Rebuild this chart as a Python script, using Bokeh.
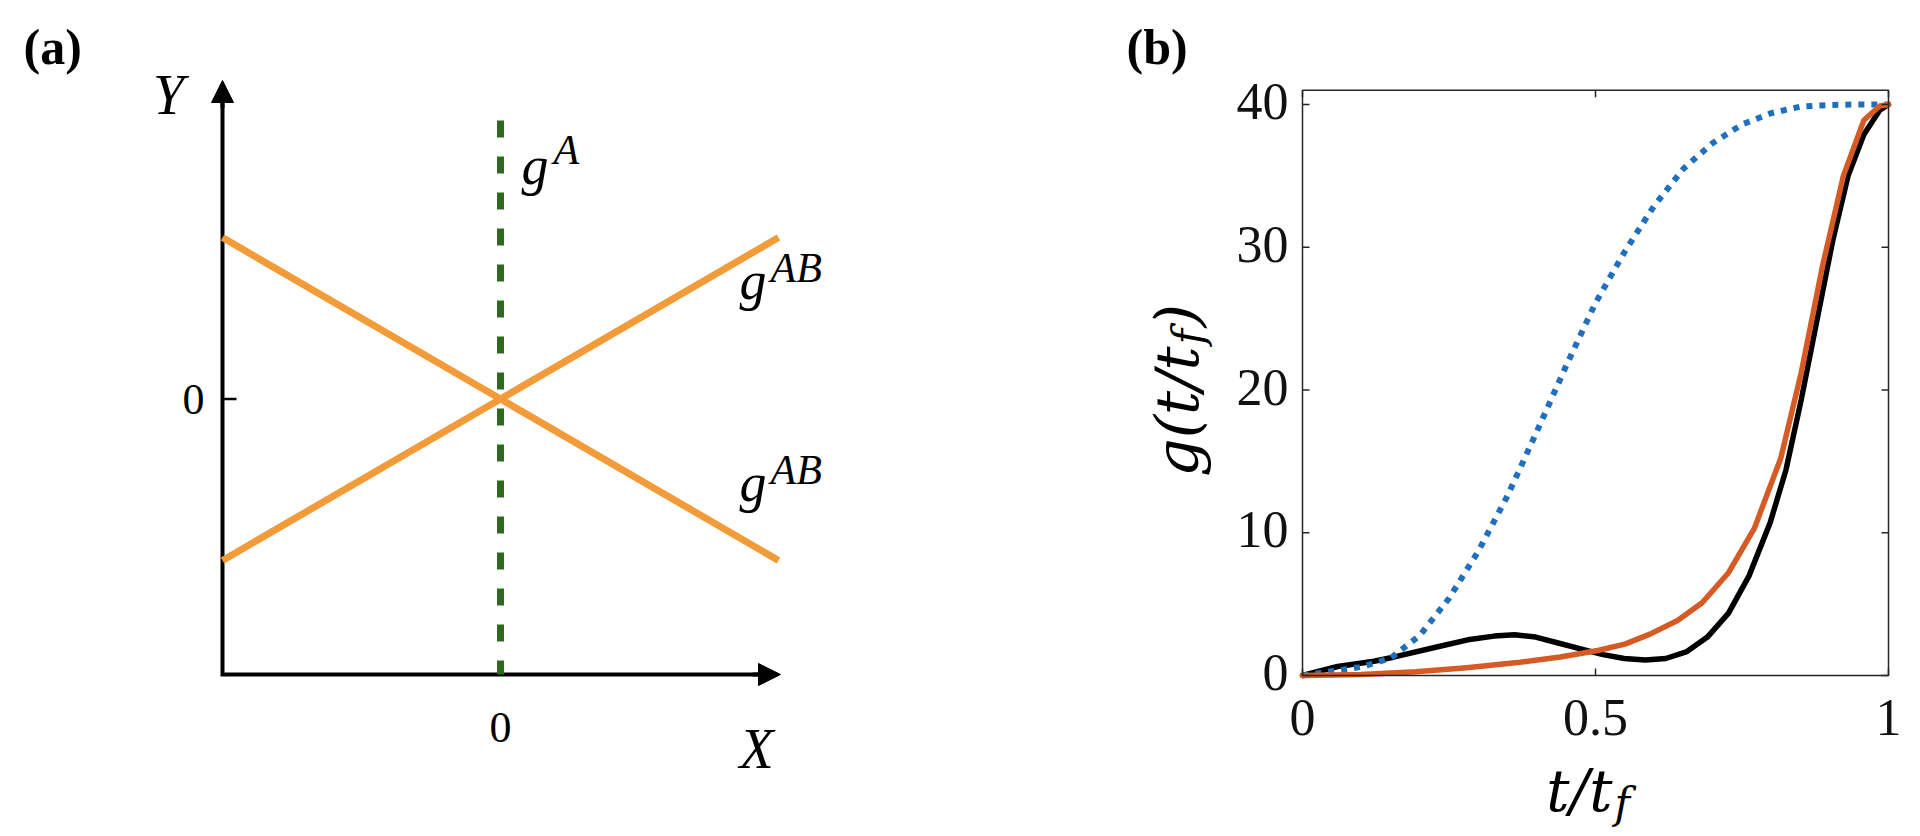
import math
from bokeh.plotting import figure
from bokeh.models import Range1d, Arrow, NormalHead, Label
from bokeh.layouts import row
from bokeh.embed import file_html
from bokeh.resources import INLINE

# ---------------- data: panel (a) schematic ----------------
a_x = [-1.0, 1.0]
a_rising = [-0.586, 0.586]
a_falling = [0.586, -0.586]
gA_x = [0.0, 0.0]
gA_y = [1.011, -1.0]
a_tick_labels = ["0", "0"]

# ---------------- data: panel (b) curves ----------------
t_blue = [0, 0.05, 0.1, 0.15, 0.2, 0.25, 0.3, 0.35, 0.4, 0.45, 0.5, 0.55, 0.6,
          0.65, 0.7, 0.75, 0.8, 0.85, 0.9, 0.95, 1.0]
g_blue = [0, 0.3, 0.6, 1.2, 2.8, 5.4, 8.7, 12.6, 17.1, 21.7, 26.1, 29.7, 32.9,
          35.5, 37.3, 38.6, 39.4, 39.85, 39.97, 40.0, 40.0]

t_black = [0, 0.06, 0.122, 0.157, 0.229, 0.282, 0.327, 0.362, 0.398, 0.433, 0.478,
           0.513, 0.549, 0.585, 0.62, 0.656, 0.691, 0.727, 0.762, 0.798, 0.825,
           0.851, 0.878, 0.905, 0.931, 0.958, 0.985, 1.0]
g_black = [0, 0.63, 1.0, 1.3, 2.0, 2.5, 2.76, 2.85, 2.69, 2.31, 1.83,
           1.46, 1.19, 1.08, 1.19, 1.68, 2.69, 4.37, 6.98, 10.7, 14.4,
           19.3, 24.9, 30.5, 35.0, 37.9, 39.6, 40.0]

t_orange = [0, 0.1, 0.193, 0.28, 0.371, 0.44, 0.504, 0.55, 0.593, 0.64, 0.682,
            0.727, 0.771, 0.816, 0.851, 0.887, 0.923, 0.958, 0.985, 1.0]
g_orange = [0, 0.07, 0.26, 0.55, 0.93, 1.3, 1.75, 2.2, 2.9, 3.85, 5.1,
            7.2, 10.3, 15.2, 21.2, 28.6, 35.0, 38.9, 39.9, 40.0]

b_xticks = [0, 0.5, 1]
b_xtick_labels = ["0", "0.5", "1"]
b_yticks = [0, 10, 20, 30, 40]
b_ytick_labels = ["0", "10", "20", "30", "40"]
b_xmax = 1.0
b_ymax = 41.0

SERIF = "Liberation Serif"
MATH = "DejaVu Serif"
ORANGE_A = "#F29B38"
GREEN_A = "#2D6A1F"
BLUE_B = "#1F6FBF"
ORANGE_B = "#D55A24"
BOX = "#262626"

W_A, W_B, H = 1108, 812, 836


# page pixel -> data converters (panel a)
def pxa(px):
    return -1 + (px - 222) / 278.0


def pya(py):
    return (398.5 - py) / 275.5


# page pixel -> data converters (panel b)
def pxb(px):
    return (px - 1302) / 586.0


def pyb(py):
    return (675 - py) / 14.275


def lab(p, text, x, y, size, style="italic", align="left", base="middle",
        angle=0.0, color="black", font=SERIF):
    p.add_layout(Label(x=x, y=y, text=text, text_font=font, text_font_size=size,
                       text_font_style=style, text_align=align, text_baseline=base,
                       text_color=color, angle=angle))


def base_fig(xr, yr, w):
    p = figure(x_range=Range1d(*xr), y_range=Range1d(*yr),
               frame_width=w, frame_height=H,
               min_border_left=0, min_border_right=0,
               min_border_top=0, min_border_bottom=0,
               output_backend="svg", toolbar_location=None)
    p.axis.visible = False
    p.grid.visible = False
    p.outline_line_color = None
    p.background_fill_color = "white"
    return p


# ---------------- panel (a) ----------------
pa = base_fig((pxa(0), pxa(W_A)), (pya(H), pya(0)), W_A)

x_tip = pxa(780)
y_tip = pya(80)
pa.line([-1, -1, x_tip - 0.05], [y_tip - 0.05, -1, -1], line_color="black",
        line_width=4, line_join="miter")
head = dict(size=22, fill_color="black", line_color="black", line_width=1)
pa.add_layout(Arrow(end=NormalHead(**head), x_start=-1, y_start=y_tip - 0.1,
                    x_end=-1, y_end=y_tip, line_width=4, line_color="black"))
pa.add_layout(Arrow(end=NormalHead(**head), x_start=x_tip - 0.1, y_start=-1,
                    x_end=x_tip, y_end=-1, line_width=4, line_color="black"))
pa.segment(x0=[-1, 0], y0=[0, -1], x1=[-1 + 14 / 278.0, 0], y1=[0, -1 + 13 / 275.5],
           line_color="black", line_width=2.5)

pa.line(gA_x, gA_y, line_color=GREEN_A, line_width=7, line_dash="17 19")
pa.line(a_x, a_falling, line_color=ORANGE_A, line_width=7)
pa.line(a_x, a_rising, line_color=ORANGE_A, line_width=7)

lab(pa, a_tick_labels[0], pxa(204), 0, "44px", style="normal", align="right")
lab(pa, a_tick_labels[1], 0, pya(727), "44px", style="normal", align="center")
lab(pa, "(a)", pxa(23), pya(46), "50px", style="bold")
lab(pa, "Y", pxa(168), pya(94), "56px", align="center")
lab(pa, "X", pxa(756), pya(748), "56px", align="center")
lab(pa, "g", pxa(521), pya(165), "54px")
lab(pa, "A", pxa(553), pya(149), "42px")
lab(pa, "g", pxa(739), pya(280), "54px")
lab(pa, "AB", pxa(770), pya(267), "42px")
lab(pa, "g", pxa(739), pya(482), "54px")
lab(pa, "AB", pxa(770), pya(469), "42px")

# ---------------- panel (b) ----------------
pb = base_fig((pxb(W_A), pxb(W_A + W_B)), (pyb(H), pyb(0)), W_B)

pb.line(t_black, g_black, line_color="black", line_width=5.5, line_cap="round", line_join="round")
pb.line(t_blue, g_blue, line_color=BLUE_B, line_width=6, line_dash="6 7")
pb.line(t_orange, g_orange, line_color=ORANGE_B, line_width=5.5, line_cap="round", line_join="round")

pb.quad(left=[0], right=[b_xmax], bottom=[0], top=[b_ymax], fill_color=None,
        line_color=BOX, line_width=1.5)
tx = 7 / 586.0
ty = 7 / 14.275
pb.segment(x0=b_xticks, y0=[0] * 3, x1=b_xticks, y1=[ty] * 3, line_color=BOX, line_width=1.5)
pb.segment(x0=b_xticks, y0=[b_ymax] * 3, x1=b_xticks, y1=[b_ymax - ty] * 3, line_color=BOX, line_width=1.5)
pb.segment(x0=[0] * 5, y0=b_yticks, x1=[tx] * 5, y1=b_yticks, line_color=BOX, line_width=1.5)
pb.segment(x0=[b_xmax] * 5, y0=b_yticks, x1=[b_xmax - tx] * 5, y1=b_yticks, line_color=BOX, line_width=1.5)

for v, s in zip(b_yticks, b_ytick_labels):
    lab(pb, s, pxb(1288), v + 3 / 14.275, "52px", style="normal", align="right",
        color="#111111")
for v, s in zip(b_xticks, b_xtick_labels):
    lab(pb, s, v, pyb(717), "52px", style="normal", align="center", color="#111111")

lab(pb, "(b)", pxb(1126), pyb(46), "50px", style="bold")
# x label  t/t_f
lab(pb, "t/t", pxb(1612), pyb(790), "58px", align="right", font=MATH)
lab(pb, "f", pxb(1614), pyb(803), "42px", font=MATH)
# y label  g(t/t_f), rotated to read upwards
rot = math.pi / 2
lab(pb, "g(t/t", pxb(1176), pyb(346), "60px", align="right", angle=rot, font=MATH)
lab(pb, "f", pxb(1188), pyb(344), "42px", angle=rot, font=MATH)
lab(pb, ")", pxb(1176), pyb(327), "60px", angle=rot, font=MATH)

layout = row(pa, pb)
open("out.html", "w").write(file_html(layout, INLINE))
